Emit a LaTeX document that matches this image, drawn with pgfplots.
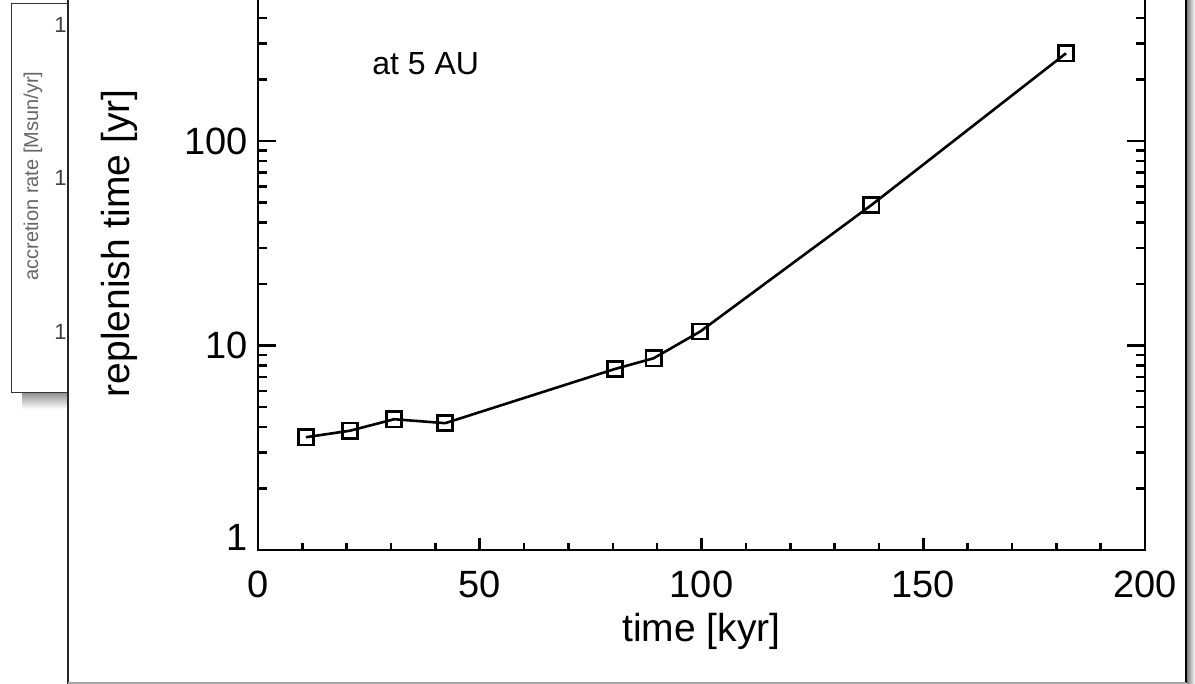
\documentclass[border=0pt]{standalone}
\usepackage{pgfplots}
\pgfplotsset{compat=1.18}
\usepackage{fontspec}
\setmainfont{Liberation Sans}
\begin{document}
\begin{tikzpicture}
\path[use as bounding box] (0pt,0pt) rectangle (597.5pt,342pt);
\begin{scope}[overlay]
\clip (0pt,0pt) rectangle (597.5pt,342pt);
\begin{scope}[yshift=342pt, x=0.5pt, y=-0.5pt]
\fill[white] (0,0) rectangle (1195,684);
% background window
\shade[top color=black!45, bottom color=white] (22,392) rectangle (68,409);
\draw[black!80, line width=0.5pt, fill=white] (11.5,3.5) rectangle (90,393);
\node[rotate=90, text=black!60, font=\fontsize{10}{12}\selectfont] at (33,176) {accretion rate [Msun/yr]};
\foreach \yy in {25,178,332} \node[anchor=west, text=black!75, font=\fontsize{11}{12}\selectfont, inner sep=0pt] at (54,\yy) {10};
% front window
\fill[white] (68,0) rectangle (1186,683);
\shade[left color=black!50, right color=white] (1187,0) rectangle (1195,684);
\draw[black!85, line width=0.7pt] (68,0) -- (68,684);
\draw[black, line width=1.1pt] (1186,0) -- (1186,683);
\draw[black!35, line width=0.8pt] (68,683) -- (1186,683);
\node[anchor=base west, font=\fontsize{16}{18}\selectfont, inner sep=0pt] at (372,75) {at 5 AU};
\end{scope}
% axis with y ticks and data
\begin{axis}[at={(129pt,67pt)}, anchor=south west, scale only axis,
  width=443.5pt, height=306.75pt,
  xmin=0, xmax=200, ymin=1, ymax=1000, ymode=log,
  axis line style={line width=1.3pt},
  every tick/.style={black, line width=1.3pt},
  major tick length=9pt, minor tick length=4.5pt,
  xtick=\empty,
  ytick={10,100,1000}, yticklabels={10,100,{}},
  extra y ticks={1}, extra y tick labels={1},
  extra y tick style={yticklabel style={yshift=6.5pt}},
  minor ytick={2,3,4,5,6,7,8,9,20,30,40,50,60,70,80,90,200,300,400,500,600,700,800,900},
  yticklabel style={font=\fontsize{19}{21}\selectfont, xshift=-1.5pt},
  ylabel={replenish time [yr]},
  ylabel style={font=\fontsize{19.5}{22}\selectfont, at={(axis description cs:0,0.5)}, anchor=base, yshift=64pt},
]
\addplot[black, line width=1.3pt, mark=square, mark size=3.8pt, mark options={line width=1.3pt, solid}] coordinates {
(10.8,3.56) (20.7,3.83) (30.7,4.36) (42.2,4.17) (80.5,7.68) (89.2,8.66) (99.7,11.7) (138.3,48.6) (182.2,268.5)
};
\end{axis}
% axis with x ticks
\begin{axis}[at={(129pt,67pt)}, anchor=south west, scale only axis,
  width=443.5pt, height=306.75pt,
  xmin=0, xmax=200, ymin=0, ymax=1,
  hide y axis,
  axis line style={line width=1.3pt},
  every tick/.style={black, line width=1.3pt},
  major tick length=6pt, minor tick length=3.5pt,
  xtick={0,50,100,150,200}, xticklabels={0,50,100,150,200},
  minor x tick num=4,
  xticklabel style={font=\fontsize{19}{21}\selectfont, yshift=-7pt},
  xlabel={time [kyr]},
  xlabel style={font=\fontsize{19.5}{22}\selectfont, at={(axis description cs:0.5,0)}, anchor=base, yshift=-46pt},
]
\end{axis}
\end{scope}
\end{tikzpicture}
\end{document}
